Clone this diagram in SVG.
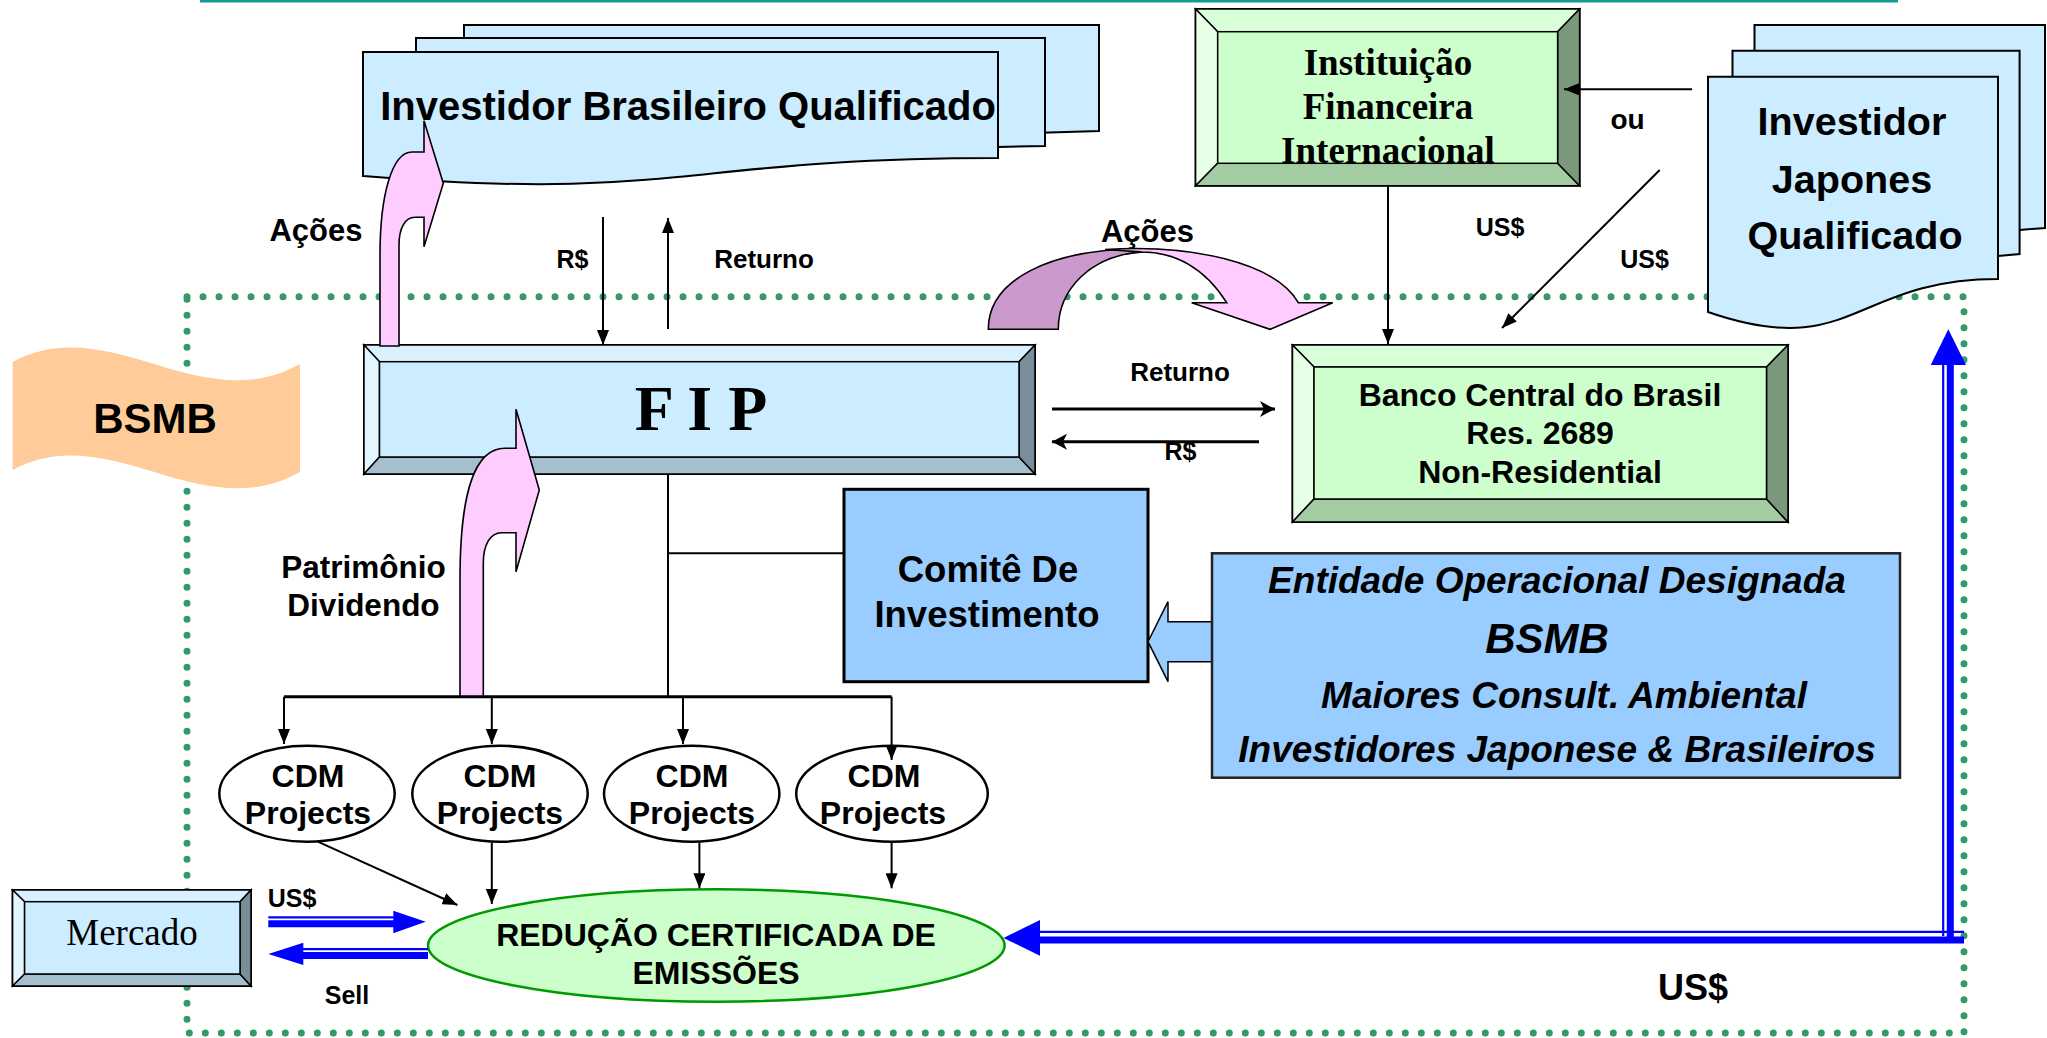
<svg xmlns="http://www.w3.org/2000/svg" width="2047" height="1038" viewBox="0 0 2047 1038">
<style>
.t{font-family:'Liberation Sans',Arial,sans-serif;font-weight:bold;text-anchor:middle;fill:#000}
.ti{font-family:'Liberation Sans',Arial,sans-serif;font-weight:bold;font-style:italic;text-anchor:middle;fill:#000}
.tt{font-family:'Liberation Serif','Times New Roman',serif;font-weight:bold;text-anchor:middle;fill:#000}
.tr{font-family:'Liberation Serif','Times New Roman',serif;text-anchor:middle;fill:#000}
.ln{stroke:#000;stroke-width:2;fill:none}
.ln3{stroke:#000;stroke-width:3;fill:none}
.doc{fill:#CCECFF;stroke:#000;stroke-width:2}
.bev{stroke:#000;stroke-width:1.5}
.bthin{stroke:#0000FF;stroke-width:2.2;fill:none}
.bthick{stroke:#0000FF;stroke-width:7;fill:none}
.bh{fill:#0000FF}
.pink{fill:#FFCCFF;stroke:#000;stroke-width:1.6}
</style>
<defs>
<marker id="ah" markerUnits="userSpaceOnUse" markerWidth="16" markerHeight="12" refX="15" refY="6" orient="auto"><path d="M0,0 L15,6 L0,12 z" fill="#000"/></marker>
<marker id="ah2" markerUnits="userSpaceOnUse" markerWidth="16" markerHeight="16" refX="15" refY="8" orient="auto"><path d="M0,0 L15,8 L0,16 L4,8 z" fill="#000"/></marker>
</defs>

<!-- top line -->
<line x1="200" y1="1.2" x2="1898" y2="1.2" stroke="#139A94" stroke-width="2.5"/>

<!-- dotted boundary -->
<rect x="187" y="296.7" width="1777" height="736.3" fill="none" stroke="#339966" stroke-width="7" stroke-dasharray="0 16" stroke-linecap="round"/>

<!-- BSMB banner -->
<g id="bsmb-banner">
<path d="M12.6,362 C110,310 200,420 300,364 L300,472 C200,528 110,418 12.6,470 Z" fill="#FFCC99"/>
<text class="t" x="155" y="433" font-size="42">BSMB</text>
</g>

<!-- Investidor Brasileiro -->
<g id="investidor-brasileiro">
<path class="doc" d="M464,25 H1099 V131 L1000,134 L464,140 Z"/>
<path class="doc" d="M416,38 H1045 V146 L998,147 L416,150 Z"/>
<path class="doc" d="M363,52 H998 V158 C680,158 680,202 363,176 Z"/>
<text class="t" x="688" y="120" font-size="40">Investidor Brasileiro Qualificado</text>
</g>

<!-- Instituição Financeira -->
<g id="instituicao">
<rect x="1195.6" y="9" width="384" height="176.7" fill="#CCFFCC" stroke="#000" stroke-width="2"/>
<polygon class="bev" points="1195.6,9 1579.6,9 1557.6,31.7 1217.7,31.7" fill="#D9FFD9"/>
<polygon class="bev" points="1195.6,9 1217.7,31.7 1217.7,163.3 1195.6,185.7" fill="#E6FFE6"/>
<polygon class="bev" points="1195.6,185.7 1217.7,163.3 1557.6,163.3 1579.6,185.7" fill="#A3CCA3"/>
<polygon class="bev" points="1579.6,9 1579.6,185.7 1557.6,163.3 1557.6,31.7" fill="#7A997A"/>
<rect x="1217.7" y="31.7" width="339.9" height="131.6" fill="#CCFFCC" stroke="#000" stroke-width="1.5"/>
<text class="tt" x="1388" y="75" font-size="37">Instituição</text>
<text class="tt" x="1388" y="119" font-size="37">Financeira</text>
<text class="tt" x="1388" y="163" font-size="37">Internacional</text>
</g>

<!-- Investidor Japones -->
<g id="investidor-japones">
<path class="doc" d="M1754.5,25 H2045 V228 L2019.6,230 L1754.5,235 Z"/>
<path class="doc" d="M1732.5,50.7 H2019.6 V254 L1998,256 L1732.5,260 Z"/>
<path class="doc" d="M1708,76.7 H1998 V279 C1853,279 1853,362 1708,312 Z"/>
<text class="t" x="1852" y="135" font-size="39.5">Investidor</text>
<text class="t" x="1852" y="193" font-size="39.5">Japones</text>
<text class="t" x="1855" y="249" font-size="39.5">Qualificado</text>
</g>

<!-- FIP -->
<g id="fip">
<rect x="364" y="345" width="671" height="129" fill="#CCECFF" stroke="#000" stroke-width="2"/>
<polygon class="bev" points="364,345 1035,345 1019,361.7 379.5,361.7" fill="#D9F0FF"/>
<polygon class="bev" points="364,345 379.5,361.7 379.5,457 364,474" fill="#E3F5FF"/>
<polygon class="bev" points="364,474 379.5,457 1019,457 1035,474" fill="#A6BFCF"/>
<polygon class="bev" points="1035,345 1035,474 1019,457 1019,361.7" fill="#7A8E99"/>
<rect x="379.5" y="361.7" width="639.5" height="95.3" fill="#CCECFF" stroke="#000" stroke-width="1.5"/>
<text class="tt" x="701" y="430" font-size="64">F I P</text>
</g>

<!-- Banco Central -->
<g id="banco-central">
<rect x="1292.5" y="345" width="495.5" height="177" fill="#CCFFCC" stroke="#000" stroke-width="2"/>
<polygon class="bev" points="1292.5,345 1788,345 1766.5,367 1314,367" fill="#D9FFD9"/>
<polygon class="bev" points="1292.5,345 1314,367 1314,499 1292.5,522" fill="#E6FFE6"/>
<polygon class="bev" points="1292.5,522 1314,499 1766.5,499 1788,522" fill="#A3CCA3"/>
<polygon class="bev" points="1788,345 1788,522 1766.5,499 1766.5,367" fill="#7A997A"/>
<rect x="1314" y="367" width="452.5" height="132" fill="#CCFFCC" stroke="#000" stroke-width="1.5"/>
<text class="t" x="1540" y="406" font-size="32">Banco Central do Brasil</text>
<text class="t" x="1540" y="444" font-size="32">Res. 2689</text>
<text class="t" x="1540" y="483" font-size="32">Non-Residential</text>
</g>

<!-- Comitê -->
<g id="comite">
<rect x="844" y="489.3" width="304" height="192.4" fill="#99CCFF" stroke="#000" stroke-width="3"/>
<text class="t" x="988" y="582" font-size="36.5">Comitê De</text>
<text class="t" x="987" y="627" font-size="36.5">Investimento</text>
</g>

<!-- Entidade -->
<g id="entidade">
<polygon points="1214,621.7 1168,621.7 1168,601.7 1148,641.7 1168,681.7 1168,661.7 1214,661.7" fill="#99CCFF" stroke="#000" stroke-width="1.5"/>
<rect x="1212" y="553.3" width="688" height="224.4" fill="#99CCFF" stroke="#222" stroke-width="2.5"/>
<text class="ti" x="1557" y="593" font-size="37">Entidade Operacional Designada</text>
<text class="ti" x="1547" y="653" font-size="42">BSMB</text>
<text class="ti" x="1564" y="708" font-size="37">Maiores Consult. Ambiental</text>
<text class="ti" x="1557" y="762" font-size="37">Investidores Japonese &amp; Brasileiros</text>
</g>

<!-- CDM projects -->
<g id="cdm1"><ellipse cx="307" cy="793.7" rx="87.7" ry="48" fill="#fff" stroke="#000" stroke-width="2.5"/>
<text class="t" x="308" y="787" font-size="32">CDM</text><text class="t" x="308" y="824" font-size="32">Projects</text></g>
<g id="cdm2"><ellipse cx="500" cy="793.7" rx="87.7" ry="48" fill="#fff" stroke="#000" stroke-width="2.5"/>
<text class="t" x="500" y="787" font-size="32">CDM</text><text class="t" x="500" y="824" font-size="32">Projects</text></g>
<g id="cdm3"><ellipse cx="691.7" cy="793.7" rx="87.7" ry="48" fill="#fff" stroke="#000" stroke-width="2.5"/>
<text class="t" x="692" y="787" font-size="32">CDM</text><text class="t" x="692" y="824" font-size="32">Projects</text></g>
<g id="cdm4"><ellipse cx="892" cy="793.7" rx="95.8" ry="48" fill="#fff" stroke="#000" stroke-width="2.5"/>
<text class="t" x="884" y="787" font-size="32">CDM</text><text class="t" x="883" y="824" font-size="32">Projects</text></g>

<!-- Redução -->
<g id="reducao">
<ellipse cx="716.3" cy="945.5" rx="288.3" ry="56.2" fill="#CCFFCC" stroke="#009900" stroke-width="2.5"/>
<text class="t" x="716" y="946" font-size="32">REDUÇÃO CERTIFICADA DE</text>
<text class="t" x="716" y="984" font-size="32">EMISSÕES</text>
</g>

<!-- Mercado -->
<g id="mercado">
<rect x="12.6" y="890" width="238.4" height="96" fill="#CCECFF" stroke="#000" stroke-width="2"/>
<polygon class="bev" points="12.6,890 251,890 240,901.7 24.6,901.7" fill="#D9F0FF"/>
<polygon class="bev" points="12.6,890 24.6,901.7 24.6,974 12.6,986" fill="#E3F5FF"/>
<polygon class="bev" points="12.6,986 24.6,974 240,974 251,986" fill="#A6BFCF"/>
<polygon class="bev" points="251,890 251,986 240,974 240,901.7" fill="#7A8E99"/>
<rect x="24.6" y="901.7" width="215.4" height="72.3" fill="#CCECFF" stroke="#000" stroke-width="1.5"/>
<text class="tr" x="132" y="945" font-size="37">Mercado</text>
</g>

<!-- connectors -->
<g id="connectors">
<line class="ln" x1="603" y1="217" x2="603" y2="345" marker-end="url(#ah)"/>
<line class="ln" x1="668" y1="329" x2="668" y2="218" marker-end="url(#ah)"/>
<line class="ln3" x1="1052" y1="409" x2="1275" y2="409" marker-end="url(#ah2)"/>
<line class="ln3" x1="1259" y1="441.7" x2="1052" y2="441.7" marker-end="url(#ah2)"/>
<line class="ln" x1="1692" y1="89.3" x2="1564" y2="89.3" marker-end="url(#ah)"/>
<line class="ln" x1="1388" y1="185.7" x2="1388" y2="344" marker-end="url(#ah)"/>
<line class="ln" x1="1659.7" y1="170" x2="1502" y2="328" marker-end="url(#ah)"/>
<line class="ln" x1="668" y1="474" x2="668" y2="697"/>
<line class="ln" x1="668" y1="553.3" x2="844" y2="553.3"/>
<line class="ln3" x1="284" y1="696.7" x2="891.6" y2="696.7"/>
<line class="ln" x1="284" y1="696.7" x2="284" y2="744" marker-end="url(#ah)"/>
<line class="ln" x1="491.8" y1="696.7" x2="491.8" y2="744" marker-end="url(#ah)"/>
<line class="ln" x1="683" y1="696.7" x2="683" y2="744" marker-end="url(#ah)"/>
<line class="ln" x1="891.6" y1="696.7" x2="891.6" y2="760" marker-end="url(#ah)"/>
<line class="ln" x1="317.8" y1="841.7" x2="457.4" y2="905" marker-end="url(#ah)"/>
<line class="ln" x1="491.8" y1="842.7" x2="491.8" y2="904" marker-end="url(#ah)"/>
<line class="ln" x1="699.4" y1="842.7" x2="699.4" y2="888.3" marker-end="url(#ah)"/>
<line class="ln" x1="891.6" y1="842.7" x2="891.6" y2="888.3" marker-end="url(#ah)"/>
<!-- blue double arrows -->
<line class="bthin" x1="268.3" y1="917.3" x2="395" y2="917.3"/>
<line class="bthick" x1="268.3" y1="923.7" x2="395" y2="923.7"/>
<polygon class="bh" points="393.3,910.7 425.7,921.7 393.3,933.3"/>
<line class="bthin" x1="300" y1="949.2" x2="428" y2="949.2"/>
<line class="bthick" x1="300" y1="955.6" x2="428" y2="955.6"/>
<polygon class="bh" points="303.3,942.7 268.3,954 303.3,965"/>
<line class="bthin" x1="1038" y1="931.8" x2="1964" y2="931.8"/>
<line class="bthick" x1="1038" y1="940" x2="1964" y2="940"/>
<line class="bthin" x1="1943.2" y1="936" x2="1943.2" y2="363"/>
<line class="bthick" x1="1950.3" y1="943" x2="1950.3" y2="363"/>
<polygon class="bh" points="1040,920 1003.5,938 1040,955.7"/>
<polygon class="bh" points="1930.7,365 1948.3,329.3 1966,365"/>
<!-- pink curved arrows -->
<path class="pink" d="M380,346 L380,255 C380,195 392,152 412,152 L424,152 L424,120.7 L443.3,183.3 L424,246.7 L424,217.3 L415,217.3 C405,217.3 399,228 399,245 L399,346 Z"/>
<path class="pink" d="M460,696 L460,580 C460,490 475,448.3 505,448.3 L516,448.3 L516,409.3 L539.3,490 L516,571.7 L516,532.7 L501.7,532.7 C490,532.7 483.3,545 483.3,563.3 L483.3,696 Z"/>
<path d="M988.3,329.3 C988.3,280 1050,249 1140,249 L1143,252 C1090,255 1058.3,290 1058.3,329.3 Z" fill="#CC99CC" stroke="#000" stroke-width="1.6"/>
<path class="pink" d="M1105,249.5 C1190,244 1275,262 1298.3,302.7 L1332.7,302.7 L1270,329.3 L1191.7,302.7 L1226.7,302.7 C1205,268 1175,252 1142,252 C1128,251 1115,250 1105,249.5 Z"/>
</g>

<!-- labels -->
<g id="labels">
<text class="t" x="316" y="241" font-size="31">Ações</text>
<text class="t" x="572.5" y="268" font-size="25">R$</text>
<text class="t" x="764" y="268" font-size="26">Returno</text>
<text class="t" x="1147.5" y="242" font-size="31">Ações</text>
<text class="t" x="1627.5" y="129" font-size="28">ou</text>
<text class="t" x="1500" y="236" font-size="25">US$</text>
<text class="t" x="1644.5" y="268" font-size="25">US$</text>
<text class="t" x="1180" y="381" font-size="26">Returno</text>
<text class="t" x="1180.5" y="460" font-size="25">R$</text>
<text class="t" x="363.5" y="578" font-size="31.5">Patrimônio</text>
<text class="t" x="363.5" y="616" font-size="31.5">Dividendo</text>
<text class="t" x="292" y="907" font-size="25">US$</text>
<text class="t" x="347" y="1004" font-size="25">Sell</text>
<text class="t" x="1693" y="1000" font-size="36">US$</text>
</g>
</svg>
